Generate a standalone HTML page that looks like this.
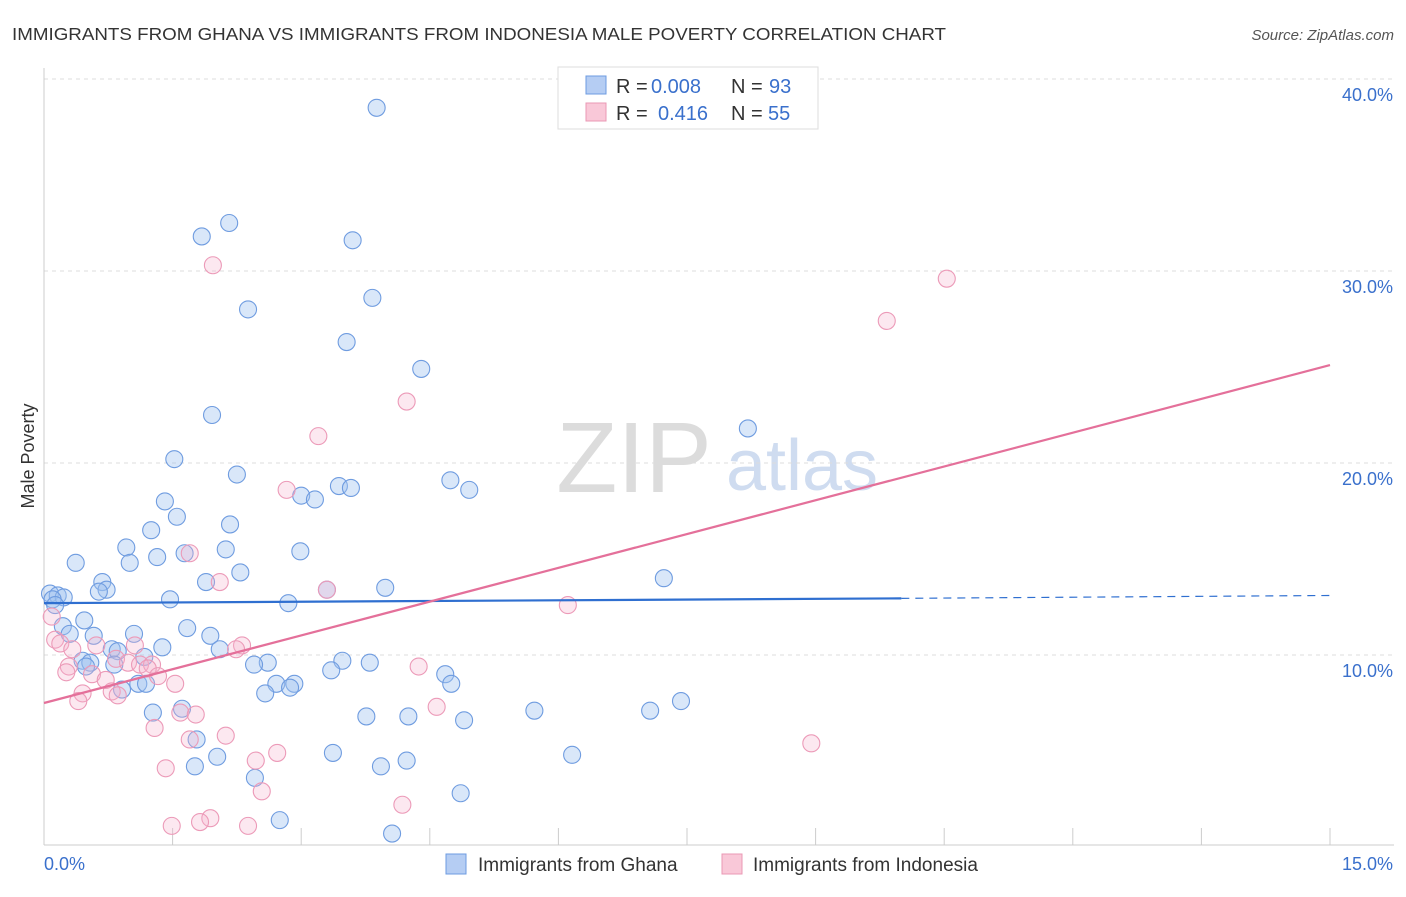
<!DOCTYPE html>
<html><head><meta charset="utf-8"><style>
body{margin:0;background:#fff;font-family:"Liberation Sans",sans-serif;}
svg text{font-family:"Liberation Sans",sans-serif;}
</style></head><body>
<svg id="chart" width="1406" height="892" xmlns="http://www.w3.org/2000/svg">
<text x="12" y="40" font-size="17.5" fill="#333" textLength="934" lengthAdjust="spacingAndGlyphs">IMMIGRANTS FROM GHANA VS IMMIGRANTS FROM INDONESIA MALE POVERTY CORRELATION CHART</text>
<text x="1394" y="40" font-size="15" fill="#555" text-anchor="end" font-style="italic">Source: ZipAtlas.com</text>
<g>
<text x="634" y="492" font-size="100" fill="#dcdcdc" font-family="Liberation Serif" text-anchor="middle">ZIP</text>
<text x="802" y="490" font-size="72" fill="#cfdcf0" text-anchor="middle">atlas</text>
</g>
<g id="grid"></g>
<g id="axes"></g>
<g id="marks"></g>
<text transform="translate(34,456) rotate(-90)" font-size="18" fill="#333" text-anchor="middle">Male Poverty</text>
<g>
<rect x="558" y="67" width="260" height="62" fill="#fff" stroke="#ddd"/>
<rect x="586" y="76" width="20" height="18" fill="#b5cdf3" stroke="#6d9be0"/>
<rect x="586" y="103" width="20" height="18" fill="#f9c8d8" stroke="#ea98b4"/>
<text x="616" y="93" font-size="20" fill="#333">R =</text>
<text x="651" y="93" font-size="20" fill="#3a70cc">0.008</text>
<text x="731" y="93" font-size="20" fill="#333">N =</text>
<text x="769" y="93" font-size="20" fill="#3a70cc">93</text>
<text x="616" y="120" font-size="20" fill="#333">R =</text>
<text x="658" y="120" font-size="20" fill="#3a70cc">0.416</text>
<text x="731" y="120" font-size="20" fill="#333">N =</text>
<text x="768" y="120" font-size="20" fill="#3a70cc">55</text>
</g>
<g>
<rect x="446" y="854" width="20" height="20" fill="#b5cdf3" stroke="#6d9be0"/>
<text x="478" y="871" font-size="19" fill="#333">Immigrants from Ghana</text>
<rect x="722" y="854" width="20" height="20" fill="#f9c8d8" stroke="#ea98b4"/>
<text x="753" y="871" font-size="19" fill="#333">Immigrants from Indonesia</text>
</g>
</svg>
<script>
const xTicks=[0,1.5,3,4.5,6,7.5,9,10.5,12,13.5,15];
const yTicks=[10,20,30,40];
const yTickLabels=["10.0%","20.0%","30.0%","40.0%"];
const ghanaX=[3.88,2.16,1.84,3.60,3.83,2.38,3.53,4.40,1.96,8.21,1.52,2.25,4.74,3.44,3.58,4.96,3.00,3.16,1.41,1.55,2.17,1.25,0.96,2.12,1.64,2.99,1.32,1.00,0.37,2.29,7.23,0.68,1.89,0.73,0.64,3.98,3.30,0.07,0.16,0.23,0.10,1.47,2.85,0.13,0.47,0.22,1.67,0.30,1.05,0.58,1.94,1.38,2.05,0.79,0.86,1.17,0.45,0.54,2.61,3.48,3.80,2.45,0.49,0.82,3.35,4.68,2.71,1.10,1.19,4.75,2.92,2.87,0.91,2.58,5.72,7.43,7.07,1.27,1.61,3.76,4.25,4.90,1.78,3.37,2.02,6.16,4.23,1.76,3.93,2.46,4.86,2.75,4.06];
const ghanaY=[38.5,32.5,31.8,31.6,28.6,28.0,26.3,24.9,22.5,21.8,20.2,19.4,19.1,18.8,18.7,18.6,18.3,18.1,18.0,17.2,16.8,16.5,15.6,15.5,15.3,15.4,15.1,14.8,14.8,14.3,14.0,13.8,13.8,13.4,13.3,13.5,13.4,13.2,13.1,13.0,12.9,12.9,12.7,12.6,11.8,11.5,11.4,11.1,11.1,11.0,11.0,10.4,10.3,10.3,10.2,9.9,9.7,9.6,9.6,9.7,9.6,9.5,9.4,9.5,9.2,9.0,8.5,8.5,8.5,8.5,8.5,8.3,8.2,8.0,7.1,7.6,7.1,7.0,7.2,6.8,6.8,6.6,5.6,4.9,4.7,4.8,4.5,4.2,4.2,3.6,2.8,1.4,0.7];
const indoX=[1.97,10.53,9.83,4.23,3.20,2.83,1.70,2.05,3.30,6.11,0.09,0.13,0.19,2.31,0.33,1.06,2.24,0.61,0.84,0.98,1.12,1.26,0.29,1.21,4.37,0.26,1.33,0.56,0.72,1.53,0.45,0.79,0.86,0.40,4.58,1.59,1.77,1.29,2.12,1.70,8.95,2.72,2.47,1.42,2.54,4.18,1.94,1.82,1.49,2.38];
const indoY=[30.3,29.6,27.4,23.2,21.4,18.6,15.3,13.8,13.4,12.6,12.0,10.8,10.6,10.5,10.3,10.5,10.3,10.5,9.8,9.6,9.5,9.5,9.4,9.3,9.4,9.1,8.9,9.0,8.7,8.5,8.0,8.1,7.9,7.6,7.3,7.0,6.9,6.2,5.8,5.6,5.4,4.9,4.5,4.1,2.9,2.2,1.5,1.3,1.1,1.1];
const ghanaTrend=[12.7,12.95,13.1];
const indoTrend=[7.5,25.1];
const NS="http://www.w3.org/2000/svg";
const sx=v=>44+v*(1286/15);
const sy=v=>847-v*19.2;
function mk(tag,attrs,parent){const e=document.createElementNS(NS,tag);for(const k in attrs)e.setAttribute(k,attrs[k]);parent.appendChild(e);return e;}
const grid=document.getElementById('grid'),axes=document.getElementById('axes'),marks=document.getElementById('marks');
yTicks.forEach((t,i)=>{
 const l=mk('line',{x1:44,x2:1394,y1:sy(t),y2:sy(t),stroke:'#ddd','stroke-dasharray':'4,4'},grid);
 
 
 const tx=mk('text',{x:1393,y:sy(t)+22,'font-size':18,fill:'#3a70cc','text-anchor':'end'},axes);
 tx.textContent=yTickLabels[i];
 
 
});
const ax=mk('line',{x1:44,x2:1394,y1:845,y2:845,stroke:'#ccc'},axes);


const ay=mk('line',{x1:44,x2:44,y1:68,y2:845,stroke:'#ccc'},axes);


xTicks.forEach(t=>{
 const l=mk('line',{x1:sx(t),x2:sx(t),y1:828,y2:845,stroke:'#ccc'},axes);
 
 
});
const xl0=mk('text',{x:44,y:870,'font-size':18,fill:'#3a70cc'},axes);xl0.textContent='0.0%';


const xl1=mk('text',{x:1393,y:870,'font-size':18,fill:'#3a70cc','text-anchor':'end'},axes);xl1.textContent='15.0%';


ghanaX.forEach((x,i)=>{
 const c=mk('circle',{cx:sx(x),cy:sy(ghanaY[i]),r:8.5,fill:'rgba(160,195,240,0.4)',stroke:'#6f9ce0','stroke-width':1.1},marks);
 
 
});
indoX.forEach((x,i)=>{
 const c=mk('circle',{cx:sx(x),cy:sy(indoY[i]),r:8.5,fill:'rgba(245,180,205,0.3)',stroke:'#ec9ab8','stroke-width':1.1},marks);
 
 
});
const g1=mk('line',{x1:sx(0),y1:sy(ghanaTrend[0]),x2:sx(10),y2:sy(ghanaTrend[1]),stroke:'#2f6fd0','stroke-width':2.2},marks);


const g2=mk('line',{x1:sx(10),y1:sy(ghanaTrend[1]),x2:sx(15),y2:sy(ghanaTrend[2]),stroke:'#2f6fd0','stroke-width':1.2,'stroke-dasharray':'8,6'},marks);


const p1=mk('line',{x1:sx(0),y1:sy(indoTrend[0]),x2:sx(15),y2:sy(indoTrend[1]),stroke:'#e4709a','stroke-width':2.2},marks);


</script>
</body></html>
